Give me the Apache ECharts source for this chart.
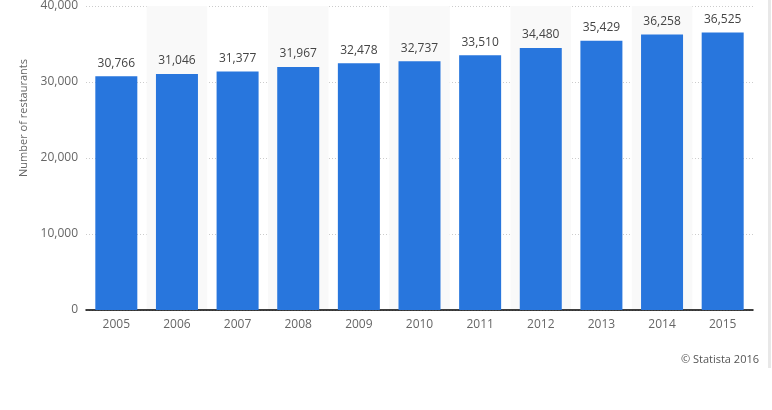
<!DOCTYPE html>
<html>
<head>
<meta charset="utf-8">
<script src="https://cdn.jsdelivr.net/npm/echarts@6/dist/echarts.min.js"></script>
<style>
  html, body { margin: 0; padding: 0; background: #fff; }
  #chart { width: 772px; height: 410px; }
</style>
</head>
<body>
<div id="chart"></div>
<script>
var years = ['2005', '2006', '2007', '2008', '2009', '2010', '2011', '2012', '2013', '2014', '2015'];
var restaurants = [30766, 31046, 31377, 31967, 32478, 32737, 33510, 34480, 35429, 36258, 36525];
var yTicks = [0, 10000, 20000, 30000, 40000];

var myChart = echarts.init(document.getElementById('chart'));
var option = {
  animation: false,
  textStyle: { fontFamily: 'Open Sans, sans-serif' },
  grid: { left: 86, right: 19, top: 6, bottom: 100 },
  xAxis: {
    type: 'category',
    data: years,
    axisLine: { lineStyle: { color: '#000', width: 1.5 } },
    axisTick: { show: false },
    axisLabel: { color: '#666', fontSize: 12, margin: 9 },
    splitArea: { show: true, areaStyle: { color: ['rgba(0,0,0,0)', '#f9f9f9'] } }
  },
  yAxis: {
    type: 'value',
    min: yTicks[0],
    max: yTicks[yTicks.length - 1],
    interval: 10000,
    name: 'Number of restaurants',
    nameLocation: 'middle',
    nameGap: 50,
    nameTextStyle: { color: '#666', fontSize: 11, padding: [0, 0, 0, 80] },
    axisLine: { show: false },
    axisTick: { show: false },
    axisLabel: {
      color: '#666', fontSize: 12, margin: 8,
      formatter: function (v) { return v.toLocaleString('en-US'); }
    },
    splitLine: { lineStyle: { color: '#ccc', type: [1, 2] } }
  },
  series: [{
    type: 'bar',
    data: restaurants,
    barWidth: 42,
    itemStyle: { color: '#2876dd' },
    label: {
      show: true,
      position: 'top',
      distance: 7,
      color: '#444',
      fontSize: 12,
      formatter: function (p) { return p.value.toLocaleString('en-US'); }
    }
  }],
  graphic: [
    {
      type: 'text', right: 13, top: 354,
      style: { text: '© Statista 2016', fill: '#555', font: '11px Open Sans, sans-serif' }
    },
    {
      type: 'rect', shape: { x: 768, y: 0, width: 3, height: 368 },
      style: { fill: '#e8e8e8' }
    }
  ]
};
myChart.setOption(option);
window.onresize = myChart.resize;
</script>
</body>
</html>
